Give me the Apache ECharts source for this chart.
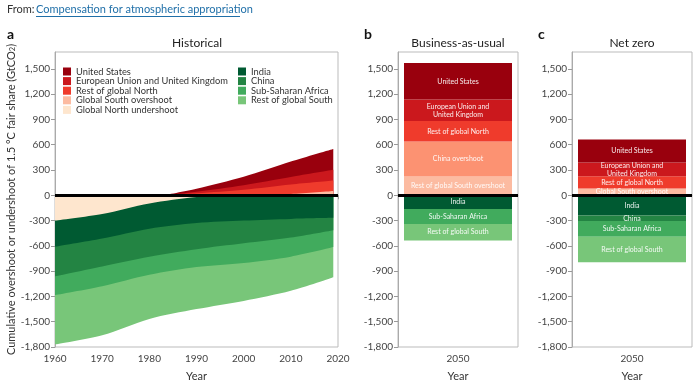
<!DOCTYPE html>
<html><head><meta charset="utf-8">
<script src="https://cdn.jsdelivr.net/npm/echarts@6/dist/echarts.min.js"></script>
<style>html,body{margin:0;padding:0;background:#fff}#c{width:700px;height:387px}</style>
</head><body><div id="c"></div>
<script>
// ---------- DATA ----------
// Historical, undershoot side (negative), stacked from zero downward
const yearsNeg = [1960, 1970, 1980, 1990, 2000, 2010, 2019];
const histGNUnder = [-300, -222, -97, -20, 0, 0, 0];
const histIndia   = [-311, -292, -300, -310, -300, -280, -268];
const histChina   = [-350, -330, -331, -310, -270, -222, -147];
const histSSA     = [-222, -234, -214, -210, -232, -226, -200];
const histRoGS    = [-587, -583, -525, -500, -451, -405, -357];
// Historical, overshoot side (positive), stacked from zero upward
const yearsPos = [1983, 1990, 2000, 2010, 2019];
const histGSOver = [0, 5, 10, 15, 50];
const histRoGN   = [0, 18, 55, 113, 125];
const histEUUK   = [0, 20, 55, 90, 128];
const histUS     = [0, 35, 100, 182, 246];

const bauNames  = ['Rest of global South overshoot', 'China overshoot', 'Rest of global North', 'European Union and United Kingdom', 'United States', 'India', 'Sub-Saharan Africa', 'Rest of global South'];
const bauLabels = ['Rest of global South overshoot', 'China overshoot', 'Rest of global North', 'European Union and\nUnited Kingdom', 'United States', 'India', 'Sub-Saharan Africa', 'Rest of global South'];
const bauValues = [223, 415, 243, 254, 435, -162, -180, -193];

const nzNames  = ['Global South overshoot', 'Rest of global North', 'European Union and United Kingdom', 'United States', 'India', 'China', 'Sub-Saharan Africa', 'Rest of global South'];
const nzLabels = ['Global South overshoot', 'Rest of global North', 'European Union and\nUnited Kingdom', 'United States', 'India', 'China', 'Sub-Saharan Africa', 'Rest of global South'];
const nzValues = [81, 144, 163, 275, -240, -66, -186, -303];

const barCategory = ['2050'];
const xTickYears = [1960, 2020];
const yRange = [-1800, 1700];

const legendLeft  = ['United States', 'European Union and United Kingdom', 'Rest of global North', 'Global South overshoot', 'Global North undershoot'];
const legendRight = ['India', 'China', 'Sub-Saharan Africa', 'Rest of global South'];

// ---------- STYLE ----------
const COL = {
  'United States': '#99000d',
  'European Union and United Kingdom': '#cb181d',
  'Rest of global North': '#ef3b2c',
  'China overshoot': '#fc9272',
  'Rest of global South overshoot': '#fcbba1',
  'Global South overshoot': '#fcbba1',
  'Global North undershoot': '#fee6ce',
  'India': '#005a32',
  'China': '#238443',
  'Sub-Saharan Africa': '#41ab5d',
  'Rest of global South': '#78c679'
};
const FONT = 'Lato, "Noto Sans", sans-serif';
const fmt = v => (v < 0 ? '-' : '') + Math.abs(v).toLocaleString('en-US');

function yAxisDef(gi, name) {
  return {
    type: 'value', gridIndex: gi, min: yRange[0], max: yRange[1], interval: 300,
    axisLine: { show: true, lineStyle: { color: '#aaa' } },
    axisTick: { show: true, length: 4, lineStyle: { color: '#999' } },
    splitLine: { show: false },
    axisLabel: { fontSize: 10, color: '#444', fontFamily: FONT, margin: 5, showMaxLabel: false, formatter: fmt },
    name: name || '', nameLocation: 'middle', nameGap: 38, nameRotate: 90,
    nameTextStyle: { fontSize: 11, color: '#333', fontFamily: FONT,
      rich: { sub: { fontSize: 7.5, color: '#333', fontFamily: FONT, verticalAlign: 'bottom' } } }
  };
}
function catAxis(gi) {
  return {
    type: 'category', gridIndex: gi, data: barCategory,
    axisLine: { show: true, lineStyle: { color: '#aaa' } },
    axisTick: { show: true, alignWithLabel: true, length: 4, lineStyle: { color: '#999' } },
    axisLabel: { fontSize: 10, color: '#444', fontFamily: FONT, margin: 7 },
    name: 'Year', nameLocation: 'middle', nameGap: 24,
    nameTextStyle: { fontSize: 11, color: '#333', fontFamily: FONT }
  };
}

const series = [];
// Historical: build stacked boundaries (cumulative) and paint outermost first, each filled to zero
function cumulative(xs, list) {
  const out = [];
  let run = xs.map(() => 0);
  list.forEach(([name, arr]) => {
    run = run.map((v, i) => v + arr[i]);
    out.push([name, xs, run.slice()]);
  });
  return out;
}
const posStack = cumulative(yearsPos, [
  ['Global South overshoot', histGSOver],
  ['Rest of global North', histRoGN],
  ['European Union and United Kingdom', histEUUK],
  ['United States', histUS]
]);
const negStack = cumulative(yearsNeg, [
  ['Global North undershoot', histGNUnder],
  ['India', histIndia],
  ['China', histChina],
  ['Sub-Saharan Africa', histSSA],
  ['Rest of global South', histRoGS]
]);
[...posStack.slice().reverse(), ...negStack.slice().reverse()].forEach(([name, xs, arr]) => {
  series.push({
    name, type: 'line', xAxisIndex: 0, yAxisIndex: 0,
    smooth: 0.3, showSymbol: false, symbol: 'none',
    lineStyle: { width: 0, color: COL[name] },
    itemStyle: { color: COL[name] },
    areaStyle: { color: COL[name], opacity: 1, origin: 0 },
    data: xs.map((y, i) => [y, arr[i]])
  });
});

function addBars(gi, names, labels, values, stackId) {
  names.forEach((name, i) => {
    series.push({
      name, type: 'bar', xAxisIndex: gi, yAxisIndex: gi, stack: stackId,
      barWidth: 108,
      itemStyle: { color: COL[name] },
      label: { show: true, position: 'inside', formatter: labels[i], color: 'rgba(255,255,255,0.92)',
        fontSize: 7, fontFamily: FONT, lineHeight: 8 },
      data: [values[i]]
    });
  });
}
addBars(1, bauNames, bauLabels, bauValues, 'bau');
addBars(2, nzNames, nzLabels, nzValues, 'nz');

[0, 1, 2].forEach(gi => {
  series.push({
    type: 'line', xAxisIndex: gi, yAxisIndex: gi, data: [], z: 10, silent: true,
    markLine: { silent: true, symbol: ['none', 'none'], label: { show: false },
      lineStyle: { color: '#000', width: 3, type: 'solid' }, data: [{ yAxis: 0 }] }
  });
});

const legendCommon = {
  orient: 'vertical', top: 67, padding: 0, itemWidth: 8, itemHeight: 8, itemGap: 0.6, icon: 'rect',
  textStyle: { fontSize: 9.3, color: '#333', fontFamily: FONT },
  selectedMode: false
};

const gridBox = { show: true, borderColor: '#bbb', borderWidth: 1, backgroundColor: 'transparent' };

const option = {
  animation: false,
  textStyle: { fontFamily: FONT },
  grid: [
    Object.assign({ left: 55, top: 52, width: 283, height: 300 }, gridBox),
    Object.assign({ left: 398, top: 52, width: 120, height: 300 }, gridBox),
    Object.assign({ left: 572, top: 52, width: 120, height: 300 }, gridBox)
  ],
  xAxis: [
    {
      type: 'value', gridIndex: 0, min: xTickYears[0], max: xTickYears[1], interval: 10,
      axisLine: { show: true, lineStyle: { color: '#aaa' } },
      axisTick: { show: true, length: 4, lineStyle: { color: '#999' } },
      splitLine: { show: false },
      axisLabel: { fontSize: 10, color: '#444', fontFamily: FONT, margin: 7, formatter: v => String(v) },
      name: 'Year', nameLocation: 'middle', nameGap: 24,
      nameTextStyle: { fontSize: 11, color: '#333', fontFamily: FONT }
    },
    catAxis(1), catAxis(2)
  ],
  yAxis: [
    yAxisDef(0, 'Cumulative overshoot or undershoot of 1.5 °C fair share (GtCO{sub|2})'),
    yAxisDef(1), yAxisDef(2)
  ],
  legend: [
    Object.assign({ left: 63, data: legendLeft }, legendCommon),
    Object.assign({ left: 238, data: legendRight }, legendCommon)
  ],
  graphic: [
    { type: 'text', left: 7, top: 4, style: { text: 'From:', fontSize: 11, fill: '#333', fontFamily: FONT } },
    { type: 'text', left: 36, top: 4, style: { text: 'Compensation for atmospheric appropriation', fontSize: 11, fill: '#1f6fa8', fontFamily: FONT } },
    { type: 'line', shape: { x1: 36, y1: 16.5, x2: 240, y2: 16.5 }, style: { stroke: '#1f6fa8', lineWidth: 1 } },
    { type: 'text', left: 7, top: 27, style: { text: 'a', fontSize: 14, fontWeight: 'bold', fill: '#111', fontFamily: FONT } },
    { type: 'text', left: 364, top: 27, style: { text: 'b', fontSize: 14, fontWeight: 'bold', fill: '#111', fontFamily: FONT } },
    { type: 'text', left: 538, top: 27, style: { text: 'c', fontSize: 14, fontWeight: 'bold', fill: '#111', fontFamily: FONT } },
    { type: 'text', x: 197, y: 37, style: { text: 'Historical', fontSize: 12, fill: '#222', fontFamily: FONT, textAlign: 'center' } },
    { type: 'text', x: 458, y: 37, style: { text: 'Business-as-usual', fontSize: 12, fill: '#222', fontFamily: FONT, textAlign: 'center' } },
    { type: 'text', x: 632, y: 37, style: { text: 'Net zero', fontSize: 12, fill: '#222', fontFamily: FONT, textAlign: 'center' } }
  ],
  series
};

const chart = echarts.init(document.getElementById('c'), null, { renderer: 'canvas' });
chart.setOption(option);
</script>
</body></html>
